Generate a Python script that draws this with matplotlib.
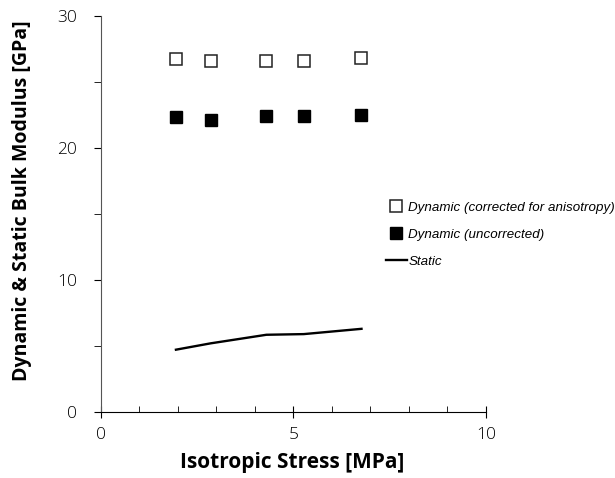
import matplotlib
matplotlib.use("Agg")
import matplotlib.pyplot as plt
from matplotlib.ticker import MultipleLocator

# isotropic stress steps [MPa]
stress = [1.95, 2.85, 4.3, 5.27, 6.77]
# bulk modulus [GPa]
k_dyn_corrected = [26.7, 26.6, 26.6, 26.6, 26.8]
k_dyn_uncorrected = [22.3, 22.1, 22.4, 22.4, 22.5]
k_static = [4.72, 5.2, 5.85, 5.9, 6.3]

fig = plt.figure(figsize=(6.15, 4.78), dpi=100)
ax = fig.add_axes([0.164, 0.138, 0.626, 0.829])

ax.plot(stress, k_dyn_corrected, "s", ms=8, mfc="white", mec="#222222",
        mew=1.1, label="Dynamic (corrected for anisotropy)")
ax.plot(stress, k_dyn_uncorrected, "s", ms=8, color="black",
        label="Dynamic (uncorrected)")
ax.plot(stress, k_static, "-", color="black", lw=1.7, label="Static")

ax.set_xlim(0, 10)
ax.set_ylim(0, 30)
ax.xaxis.set_major_locator(MultipleLocator(5))
ax.xaxis.set_minor_locator(MultipleLocator(1))
ax.yaxis.set_major_locator(MultipleLocator(10))
ax.yaxis.set_minor_locator(MultipleLocator(5))
for side in ("top", "right"):
    ax.spines[side].set_visible(False)
ax.spines["left"].set_color("#555555")
ax.spines["bottom"].set_color("black")

ax.tick_params(axis="x", which="major", direction="inout", length=8,
               labelsize=12.5, pad=7)
ax.tick_params(axis="x", which="minor", direction="in", length=4)
ax.tick_params(axis="y", which="major", direction="out", length=5,
               labelsize=12.5, pad=12)
ax.tick_params(axis="y", which="minor", direction="out", length=5)
for lbl in ax.get_xticklabels() + ax.get_yticklabels():
    lbl.set_family("Open Sans")
    lbl.set_fontweight("light")

ax.set_xlabel("Isotropic Stress [MPa]", family="Open Sans",
              fontweight="bold", fontsize=15)
ax.set_ylabel("Dynamic & Static Bulk Modulus [GPa]", family="Open Sans",
              fontweight="bold", fontsize=14)
ax.xaxis.set_label_coords(0.497, -0.1)
ax.yaxis.set_label_coords(-0.18, 0.533)

leg = fig.legend(loc="upper left", bbox_to_anchor=(379 / 615, 1 - 195 / 478),
                 frameon=False, handlelength=1.6, handletextpad=0.1,
                 labelspacing=1.1, borderpad=0,
                 prop={"family": "Liberation Sans", "style": "italic",
                       "size": 9.6})

fig.savefig("out.png", dpi=100)
